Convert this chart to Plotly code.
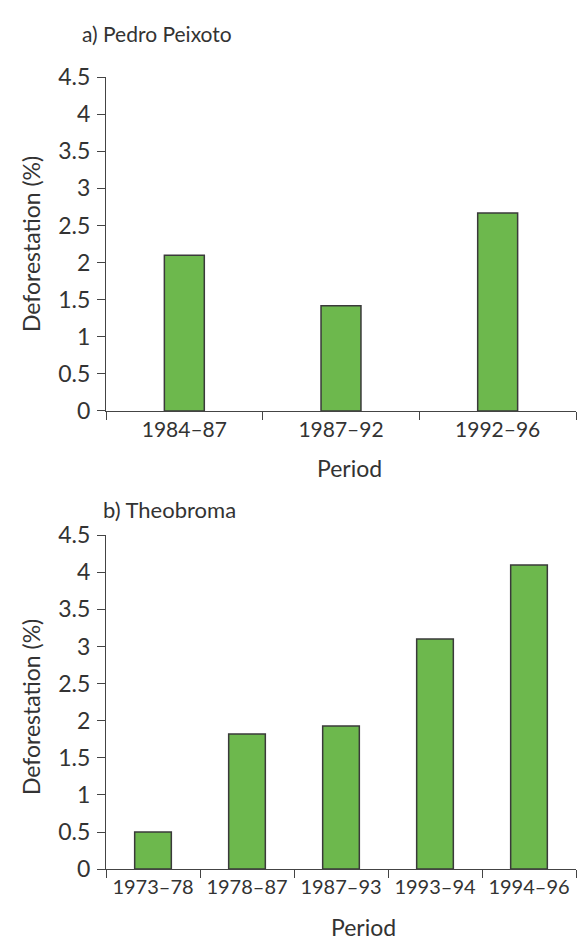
import plotly.graph_objects as go

# Pedro Peixoto settlement
periods_a = ["1984–87", "1987–92", "1992–96"]
deforest_a = [2.1, 1.42, 2.67]

# Theobroma settlement
periods_b = ["1973–78", "1978–87", "1987–93", "1993–94", "1994–96"]
deforest_b = [0.5, 1.82, 1.93, 3.1, 4.1]

y_ticks = [0, 0.5, 1, 1.5, 2, 2.5, 3, 3.5, 4, 4.5]
y_ticktext = ["0", "0.5", "1", "1.5", "2", "2.5", "3", "3.5", "4", "4.5"]

W, H = 585, 952
FONT = "Lato"
INK = "#333333"
BAR_FILL = "#6db84d"
BAR_EDGE = "#3a3a3a"


def px_x(v):
    return v / W


def px_y(v):
    return 1 - v / H


fig = go.Figure()
fig.add_trace(go.Bar(x=periods_a, y=deforest_a, xaxis="x", yaxis="y",
                     marker=dict(color=BAR_FILL, line=dict(color=BAR_EDGE, width=1.5)),
                     width=0.255, showlegend=False, hoverinfo="x+y"))
fig.add_trace(go.Bar(x=periods_b, y=deforest_b, xaxis="x2", yaxis="y2",
                     marker=dict(color=BAR_FILL, line=dict(color=BAR_EDGE, width=1.5)),
                     width=0.39, showlegend=False, hoverinfo="x+y"))

xdom = [px_x(106), px_x(576)]
common_x = dict(showline=True, linecolor="#444", linewidth=1.3, ticks="outside",
                ticklen=8, tickwidth=1.3, tickcolor="#444", tickson="boundaries",
                showgrid=False, zeroline=False, type="category", fixedrange=True)
common_y = dict(showline=True, linecolor="#444", linewidth=1.3, ticks="outside",
                ticklen=8, tickwidth=1.3, tickcolor="#444", showgrid=False,
                zeroline=False, range=[0, 4.5], tickvals=y_ticks, ticktext=y_ticktext,
                tickfont=dict(family=FONT, size=23, color=INK), ticklabelstandoff=2,
                fixedrange=True)

fig.update_layout(
    width=W, height=H,
    margin=dict(l=0, r=0, t=0, b=0),
    paper_bgcolor="white", plot_bgcolor="white",
    xaxis=dict(domain=xdom, anchor="y", tickfont=dict(family=FONT, size=21, color=INK), **common_x),
    yaxis=dict(domain=[px_y(408), px_y(64)], anchor="x", **common_y),
    xaxis2=dict(domain=xdom, anchor="y2", tickfont=dict(family=FONT, size=20, color=INK), **common_x),
    yaxis2=dict(domain=[px_y(880), px_y(536)], anchor="x2", **common_y),
)

ann_font = dict(family=FONT, size=23, color=INK)
annotations = [
    dict(text="a) Pedro Peixoto", x=px_x(80), y=px_y(19), xanchor="left", yanchor="middle",
         font=dict(family=FONT, size=21, color=INK)),
    dict(text="b) Theobroma", x=px_x(101), y=px_y(509), xanchor="left", yanchor="middle",
         font=dict(family=FONT, size=22, color=INK)),
    dict(text="Period", x=px_x(349), y=px_y(467), xanchor="center", yanchor="middle", font=ann_font),
    dict(text="Period", x=px_x(363), y=px_y(940), xanchor="center", yanchor="middle", font=ann_font),
    dict(text="Deforestation (%)", x=px_x(31), y=px_y(236), xanchor="center", yanchor="middle",
         textangle=-90, font=ann_font),
    dict(text="Deforestation (%)", x=px_x(31), y=px_y(713), xanchor="center", yanchor="middle",
         textangle=-90, font=ann_font),
]
for a in annotations:
    fig.add_annotation(xref="paper", yref="paper", showarrow=False, **a)

fig.write_html("out.html")
